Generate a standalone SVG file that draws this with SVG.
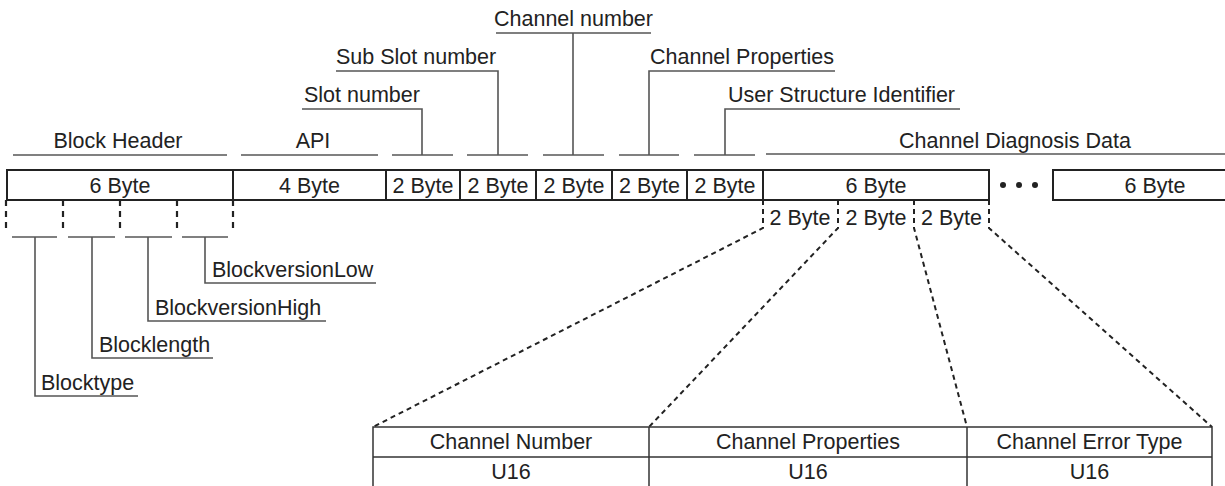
<svg xmlns="http://www.w3.org/2000/svg" width="1225" height="486" viewBox="0 0 1225 486">
<style>
text{font-family:"Liberation Sans",Arial,sans-serif;font-size:21.5px;fill:#222}
.c{text-anchor:middle}
.box{fill:#fff;stroke:#222;stroke-width:2}
.hl{stroke:#808080;stroke-width:2;fill:none}
.ll{stroke:#555;stroke-width:1.6;fill:none}
.dv{stroke:#222;stroke-width:2.2;fill:none;stroke-dasharray:6 5}
.dd{stroke:#222;stroke-width:2;fill:none;stroke-dasharray:5 4}
.tl{stroke:#333;stroke-width:1.5;fill:none}
</style>
<rect width="1225" height="486" fill="#fff"/>
<g id="main-row">
<rect class="box" x="7" y="170" width="756" height="30"/>
<line class="box" x1="233" y1="170" x2="233" y2="200"/>
<line class="box" x1="386" y1="170" x2="386" y2="200"/>
<line class="box" x1="460" y1="170" x2="460" y2="200"/>
<line class="box" x1="536" y1="170" x2="536" y2="200"/>
<line class="box" x1="612" y1="170" x2="612" y2="200"/>
<line class="box" x1="687" y1="170" x2="687" y2="200"/>
<text class="c" x="120" y="193">6 Byte</text>
<text class="c" x="309.5" y="193">4 Byte</text>
<text class="c" x="423" y="193">2 Byte</text>
<text class="c" x="498" y="193">2 Byte</text>
<text class="c" x="574" y="193">2 Byte</text>
<text class="c" x="649.5" y="193">2 Byte</text>
<text class="c" x="725" y="193">2 Byte</text>
</g>
<g id="diag-row">
<rect class="box" x="763" y="170" width="226" height="30"/>
<text class="c" x="876" y="193">6 Byte</text>
<circle cx="1003" cy="185" r="3" fill="#222"/>
<circle cx="1019" cy="185" r="3" fill="#222"/>
<circle cx="1035" cy="185" r="3" fill="#222"/>
<rect class="box" x="1053" y="170" width="210" height="30"/>
<text class="c" x="1155" y="193">6 Byte</text>
<text class="c" x="800" y="225">2 Byte</text>
<text class="c" x="876" y="225">2 Byte</text>
<text class="c" x="951.5" y="225">2 Byte</text>
</g>
<g id="header-labels">
<line class="hl" x1="13" y1="155" x2="227" y2="155"/>
<text class="c" x="118" y="148">Block Header</text>
<line class="hl" x1="241" y1="155" x2="378" y2="155"/>
<text class="c" x="313" y="148">API</text>
<line class="hl" x1="392" y1="155" x2="453" y2="155"/>
<line class="hl" x1="467" y1="155" x2="528" y2="155"/>
<line class="hl" x1="543" y1="155" x2="604" y2="155"/>
<line class="hl" x1="619" y1="155" x2="679" y2="155"/>
<line class="hl" x1="694" y1="155" x2="755" y2="155"/>
<line class="hl" x1="766" y1="154" x2="1225" y2="154"/>
<text class="c" x="1015" y="148">Channel Diagnosis Data</text>
</g>
<g id="field-labels">
<polyline class="ll" points="302,109 422,109 422,155"/>
<text x="304" y="102">Slot number</text>
<polyline class="ll" points="336,71 498,71 498,155"/>
<text x="336" y="64">Sub Slot number</text>
<polyline class="ll" points="496,33 651,33"/>
<line class="ll" x1="573" y1="33" x2="573" y2="155"/>
<text x="494" y="26">Channel number</text>
<polyline class="ll" points="649,155 649,71 835,71"/>
<text x="650" y="64">Channel Properties</text>
<polyline class="ll" points="725,155 725,109 960,109"/>
<text x="728" y="102">User Structure Identifier</text>
</g>
<g id="block-header-fields">
<line class="dv" x1="6" y1="200" x2="6" y2="230"/>
<line class="dv" x1="63" y1="200" x2="63" y2="230"/>
<line class="dv" x1="120" y1="200" x2="120" y2="230"/>
<line class="dv" x1="177" y1="200" x2="177" y2="230"/>
<line class="dv" x1="233" y1="200" x2="233" y2="230"/>
<line class="hl" x1="12" y1="237" x2="57" y2="237"/>
<line class="hl" x1="68" y1="237" x2="115" y2="237"/>
<line class="hl" x1="125" y1="237" x2="172" y2="237"/>
<line class="hl" x1="182" y1="237" x2="228" y2="237"/>
<polyline class="ll" points="205,237 205,283 376,283"/>
<text x="212" y="277">BlockversionLow</text>
<polyline class="ll" points="148,237 148,321 326,321"/>
<text x="155" y="315">BlockversionHigh</text>
<polyline class="ll" points="92,237 92,358 213,358"/>
<text x="99" y="352">Blocklength</text>
<polyline class="ll" points="35,237 35,396 138,396"/>
<text x="41" y="390">Blocktype</text>
</g>
<g id="connectors">
<polyline class="dd" points="763,200 763,228 373,427"/>
<polyline class="dd" points="838,200 838,228 649,427"/>
<polyline class="dd" points="914,200 914,228 967,427"/>
<polyline class="dd" points="989,200 989,228 1212,427"/>
</g>
<g id="detail-table">
<polyline class="tl" points="373,490 373,427 1212,427 1212,490"/>
<line class="tl" x1="373" y1="457" x2="1212" y2="457"/>
<line class="tl" x1="649" y1="427" x2="649" y2="490"/>
<line class="tl" x1="967" y1="427" x2="967" y2="490"/>
<text class="c" x="511" y="449">Channel Number</text>
<text class="c" x="808" y="449">Channel Properties</text>
<text class="c" x="1089.5" y="449">Channel Error Type</text>
<text class="c" x="511" y="479">U16</text>
<text class="c" x="808" y="479">U16</text>
<text class="c" x="1089.5" y="479">U16</text>
</g>
</svg>
